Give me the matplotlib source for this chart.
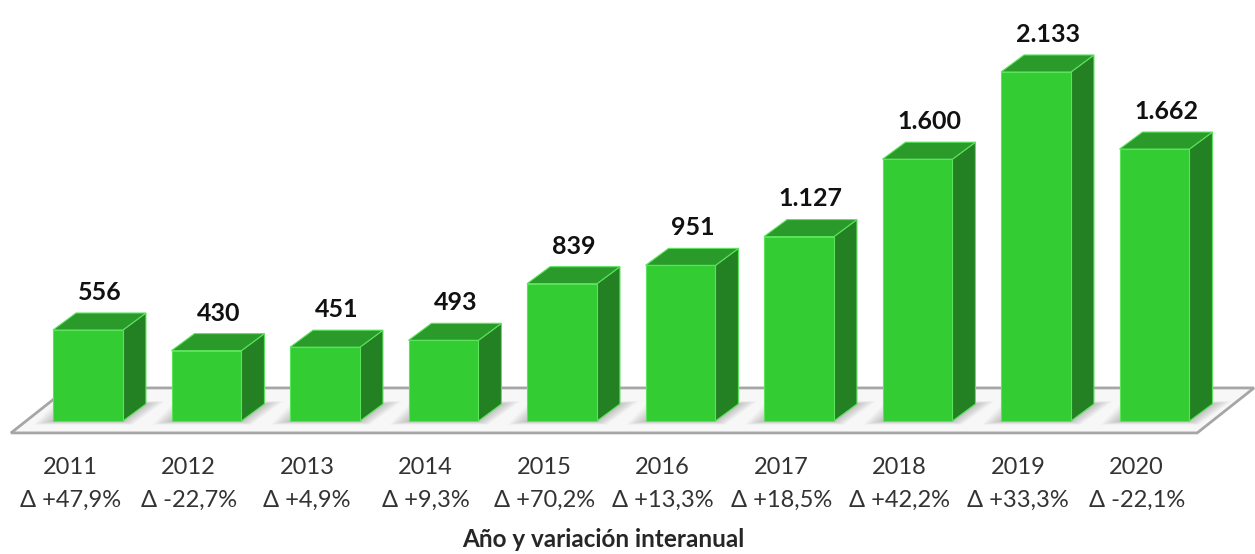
import numpy as np
import matplotlib.pyplot as plt
from matplotlib.patches import Polygon

years = ['2011', '2012', '2013', '2014', '2015', '2016', '2017', '2018', '2019', '2020']
values = [556, 430, 451, 493, 839, 951, 1127, 1600, 2133, 1662]
labels = ['556', '430', '451', '493', '839', '951', '1.127', '1.600', '2.133', '1.662']
variation = ['+47,9%', '-22,7%', '+4,9%', '+9,3%', '+70,2%', '+13,3%', '+18,5%', '+42,2%', '+33,3%', '-22,1%']

plt.rcParams['font.family'] = ['Lato', 'DejaVu Sans']

fig = plt.figure(figsize=(12.55, 5.54), dpi=100)
ax = fig.add_axes([0, 0, 1, 1])
ax.set_xlim(-0.7426, 9.848)
ax.set_ylim(-813, 2573)
ax.axis('off')

front = '#33cc33'
side = '#238023'
top = '#2a9a2a'
edge = '#5be35b'

w = 0.59      # bar width (category units)
dx = 0.194    # depth in x
dy = 104      # depth in y (value units)

# floor
n = len(values)
floor = Polygon([(-0.65, -73), (n - 1 + 0.36, -73), (n - 1 + 0.84, 202), (-0.169, 202)],
                closed=True, facecolor='#f7f7f7', edgecolor='#a6a6a6', lw=2, zorder=1)
ax.add_patch(floor)

x = np.arange(n)
for i, v in enumerate(values):
    x0 = x[i] - w / 2
    x1 = x[i] + w / 2
    # soft shadow on the floor around the bar base
    for k in np.linspace(0.16, 0.01, 10):
        ky = k * 350
        ax.add_patch(Polygon([(x0 - k, -ky * 0.4), (x1 + k * 0.5, -ky * 0.4),
                              (x1 + dx + k, dy + ky * 0.3), (x0 + dx - k, dy + ky * 0.3)],
                             closed=True, facecolor='#555555', edgecolor='none', alpha=0.035, zorder=2))
    ax.add_patch(Polygon([(x1, 0), (x1 + dx, dy), (x1 + dx, v + dy), (x1, v)],
                         closed=True, facecolor=side, edgecolor=edge, lw=0.8, zorder=3))
    ax.add_patch(Polygon([(x0, v), (x1, v), (x1 + dx, v + dy), (x0 + dx, v + dy)],
                         closed=True, facecolor=top, edgecolor=edge, lw=0.8, zorder=3))
    ax.add_patch(Polygon([(x0, 0), (x1, 0), (x1, v), (x0, v)],
                         closed=True, facecolor=front, edgecolor=edge, lw=0.8, zorder=4))
    ax.text(x[i] + 0.1, v + dy + 80, labels[i], ha='center', va='baseline',
            fontsize=18, fontweight='bold', color='#111111', zorder=5)
    ax.text(x[i] - 0.15, -287, years[i], ha='center', va='center', fontsize=17, color='#333333')
    ax.text(x[i] - 0.15, -483, '\u0394 ' + variation[i], ha='center', va='center',
            fontsize=17, color='#333333')

ax.text(4.35, -727, 'Año y variación interanual', ha='center', va='center',
        fontsize=17.5, fontweight='bold', color='#262626')

plt.savefig('out.png', dpi=100)
